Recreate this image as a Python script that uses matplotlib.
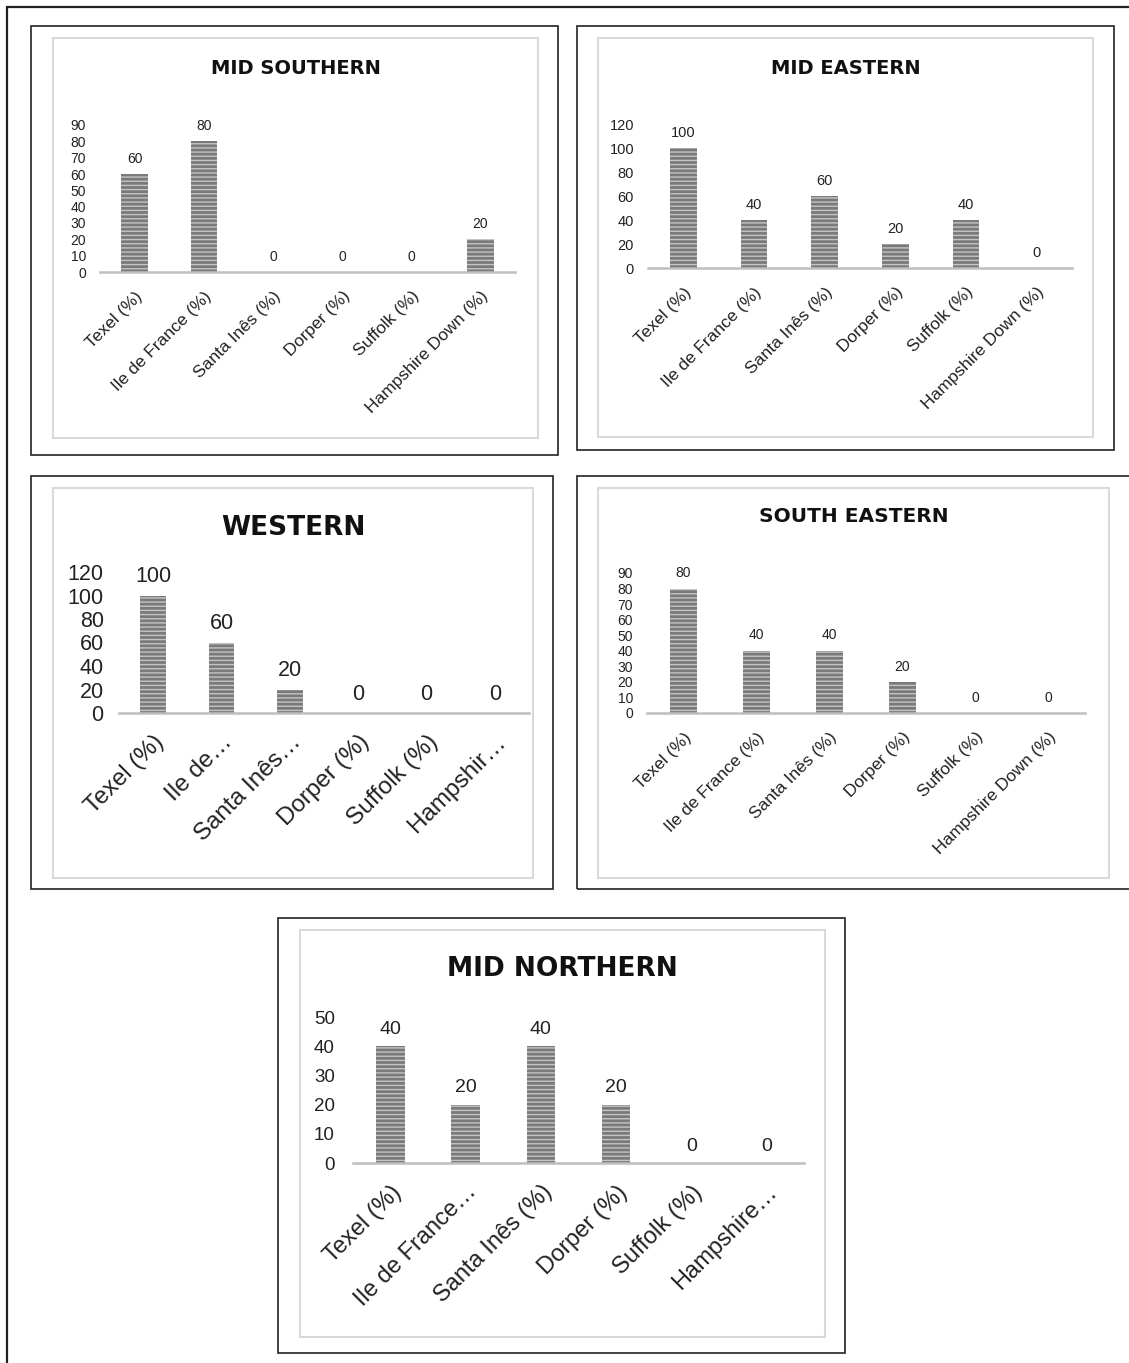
import matplotlib.pyplot as plt
from matplotlib.patches import Rectangle

plt.rcParams['font.family'] = ['Liberation Sans', 'DejaVu Sans']
plt.rcParams['hatch.linewidth'] = 1.0

W, H = 1129, 1363

breeds = ['Texel (%)', 'Ile de France (%)', 'Santa Inês (%)', 'Dorper (%)',
          'Suffolk (%)', 'Hampshire Down (%)']
western_labels = ['Texel (%)', 'Ile de…', 'Santa Inês…', 'Dorper (%)',
                  'Suffolk (%)', 'Hampshir…']
northern_labels = ['Texel (%)', 'Ile de France…', 'Santa Inês (%)', 'Dorper (%)',
                   'Suffolk (%)', 'Hampshire…']

mid_southern = [60, 80, 0, 0, 0, 20]
mid_eastern = [100, 40, 60, 20, 40, 0]
western = [100, 60, 20, 0, 0, 0]
south_eastern = [80, 40, 40, 20, 0, 0]
mid_northern = [40, 20, 40, 20, 0, 0]

fig = plt.figure(figsize=(W / 100, H / 100), dpi=100)


def box(x0, y0, x1, y1, color, lw):
    fig.patches.append(Rectangle((x0 / W, 1 - y1 / H), (x1 - x0) / W, (y1 - y0) / H,
                                 transform=fig.transFigure, fill=False,
                                 edgecolor=color, linewidth=lw))


# page border
box(7, 7, 1140, 1380, '#222222', 1.6)

panels = [
    dict(outer=(31, 26, 558, 455), inner=(53, 38, 538, 438),
         ax=(100, 125, 515, 272), top=90, step=10, title='MID SOUTHERN', ty=68,
         vals=mid_southern, labels=breeds, tfs=14, yfs=10, xfs=12.5, vfs=10,
         ypad=10, xpad=12),
    dict(outer=(577, 26, 1114, 450), inner=(598, 38, 1093, 437),
         ax=(648, 124, 1072, 268), top=120, step=20, title='MID EASTERN', ty=68,
         vals=mid_eastern, labels=breeds, tfs=14, yfs=10.5, xfs=12.5, vfs=10.5,
         ypad=10, xpad=12),
    dict(outer=(31, 476, 553, 889), inner=(53, 488, 533, 878),
         ax=(119, 572, 529, 713), top=120, step=20, title='WESTERN', ty=528,
         vals=western, labels=western_labels, tfs=19, yfs=15.5, xfs=17.5, vfs=15.5,
         ypad=11, xpad=13),
    dict(outer=(577, 476, 1140, 889), inner=(598, 488, 1109, 878),
         ax=(647, 573, 1085, 713), top=90, step=10, title='SOUTH EASTERN', ty=517,
         vals=south_eastern, labels=breeds, tfs=14.5, yfs=10, xfs=12.5, vfs=10,
         ypad=10, xpad=12),
    dict(outer=(278, 918, 845, 1353), inner=(300, 930, 825, 1337),
         ax=(353, 1017, 804, 1163), top=50, step=10, title='MID NORTHERN', ty=969,
         vals=mid_northern, labels=northern_labels, tfs=19, yfs=13.5, xfs=17, vfs=14,
         ypad=13, xpad=13),
]

for p in panels:
    box(*p['outer'], '#222222', 1.2)
    box(*p['inner'], '#d9d9d9', 1.5)
    x0, y0, x1, y1 = p['ax']
    ax = fig.add_axes([x0 / W, 1 - y1 / H, (x1 - x0) / W, (y1 - y0) / H])
    xs = range(len(p['vals']))
    bars = ax.bar(xs, p['vals'], width=0.38, color='#7a7a7a', edgecolor='#c4c4c4',
                  hatch='----', linewidth=0)
    for b, v in zip(bars, p['vals']):
        ax.annotate(str(v), (b.get_x() + b.get_width() / 2, v), xytext=(0, 6),
                    textcoords='offset points', ha='center', va='bottom',
                    fontsize=p['vfs'], color='#222222')
    ax.set_xlim(-0.5, len(p['vals']) - 0.5)
    ax.set_ylim(0, p['top'])
    ax.set_yticks(range(0, p['top'] + 1, p['step']))
    ax.set_xticks(list(xs))
    ax.set_xticklabels(p['labels'], rotation=45, ha='right', rotation_mode='anchor',
                       fontsize=p['xfs'], color='#222222')
    ax.tick_params(axis='y', length=0, labelsize=p['yfs'], labelcolor='#222222',
                   pad=p['ypad'])
    ax.tick_params(axis='x', length=0, pad=p['xpad'])
    for s in ['top', 'right', 'left']:
        ax.spines[s].set_visible(False)
    ax.spines['bottom'].set_color('#bfbfbf')
    ax.spines['bottom'].set_linewidth(1.8)
    ax.set_facecolor('none')
    cx = (p['inner'][0] + p['inner'][2]) / 2
    fig.text(cx / W, 1 - p['ty'] / H, p['title'], ha='center', va='center',
             fontsize=p['tfs'], fontweight='bold', color='#111111',
             family='DejaVu Sans')

fig.savefig('out.png', dpi=100)
